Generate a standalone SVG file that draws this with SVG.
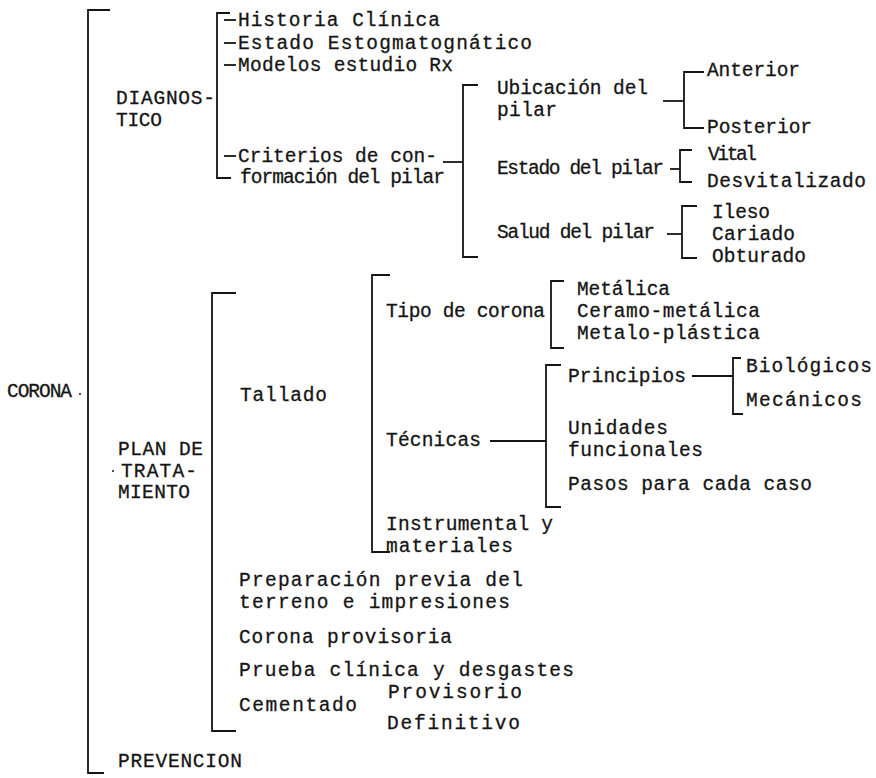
<svg xmlns="http://www.w3.org/2000/svg" width="876" height="778" viewBox="0 0 876 778">
<style>
text{font-family:"Liberation Mono","Courier New",monospace;font-size:19.5px;fill:#151515;stroke:#151515;stroke-width:0.3}
.c path,.c line{fill:none;stroke:#151515;stroke-width:1.8}
</style>
<rect width="876" height="778" fill="#fff"/>
<g class="c" id="connectors">
<path d="M110,10 H88 V773 H104"/>
<path d="M230,13 H217 V178 H231"/>
<line x1="224" y1="20" x2="236" y2="20"/>
<line x1="224" y1="43" x2="236" y2="43"/>
<line x1="224" y1="65" x2="236" y2="65"/>
<line x1="224" y1="156" x2="236" y2="156"/>
<line x1="443" y1="162" x2="463" y2="162"/>
<path d="M478,85 H463 V257 H478"/>
<line x1="663" y1="101" x2="684" y2="101"/>
<path d="M704,72 H684 V128 H704"/>
<line x1="670" y1="169" x2="680" y2="169"/>
<path d="M692,150 H680 V182 H692"/>
<line x1="667" y1="234" x2="682" y2="234"/>
<path d="M697,206 H682 V258 H697"/>
<path d="M236,293 H212 V731 H236"/>
<path d="M390,275 H372 V552 H390"/>
<path d="M564,281 H551 V348 H564"/>
<line x1="490" y1="441" x2="546" y2="441"/>
<path d="M561,365 H546 V507 H561"/>
<line x1="692" y1="376" x2="733" y2="376"/>
<path d="M741,358 H733 V414 H743"/>
<circle cx="80" cy="394" r="1" fill="#151515" stroke="none"/>
<circle cx="113" cy="471" r="1" fill="#151515" stroke="none"/>
</g>
<g id="corona"><text x="7" y="397" textLength="65">CORONA</text></g>
<g id="diagnostico"><text x="116" y="104" textLength="99">DIAGNOS-</text><text x="116" y="126" textLength="46">TICO</text></g>
<g id="historia"><text x="238" y="26" textLength="202">Historia Clínica</text></g>
<g id="estado-estog"><text x="238" y="49" textLength="294">Estado Estogmatognático</text></g>
<g id="modelos"><text x="238" y="71" textLength="215">Modelos estudio Rx</text></g>
<g id="criterios"><text x="238" y="162" textLength="199">Criterios de con-</text><text x="240" y="183" textLength="205">formación del pilar</text></g>
<g id="ubicacion"><text x="497" y="94" textLength="151">Ubicación del</text><text x="497" y="116" textLength="60">pilar</text></g>
<g id="anterior"><text x="707" y="76" textLength="93">Anterior</text></g>
<g id="posterior"><text x="707" y="133" textLength="105">Posterior</text></g>
<g id="estado-pilar"><text x="497" y="174" textLength="167">Estado del pilar</text></g>
<g id="vital"><text x="708" y="160" textLength="49">Vital</text></g>
<g id="desvitalizado"><text x="707" y="187" textLength="159">Desvitalizado</text></g>
<g id="salud"><text x="497" y="238" textLength="158">Salud del pilar</text></g>
<g id="ileso"><text x="712" y="218" textLength="58">Ileso</text></g>
<g id="cariado"><text x="712" y="240" textLength="83">Cariado</text></g>
<g id="obturado"><text x="712" y="262" textLength="94">Obturado</text></g>
<g id="plan"><text x="118" y="455" textLength="85">PLAN DE</text><text x="121" y="477" textLength="76">TRATA-</text><text x="118" y="498" textLength="72">MIENTO</text></g>
<g id="prevencion"><text x="118" y="767" textLength="124">PREVENCION</text></g>
<g id="tallado"><text x="240" y="401" textLength="87">Tallado</text></g>
<g id="tipo"><text x="386" y="317" textLength="159">Tipo de corona</text></g>
<g id="metalica"><text x="577" y="295" textLength="93">Metálica</text></g>
<g id="ceramo"><text x="577" y="317" textLength="183">Ceramo-metálica</text></g>
<g id="metalo"><text x="577" y="339" textLength="183">Metalo-plástica</text></g>
<g id="tecnicas"><text x="386" y="446" textLength="95">Técnicas</text></g>
<g id="principios"><text x="568" y="382" textLength="118">Principios</text></g>
<g id="biologicos"><text x="746" y="372" textLength="126">Biológicos</text></g>
<g id="mecanicos"><text x="746" y="406" textLength="116">Mecánicos</text></g>
<g id="unidades"><text x="568" y="434" textLength="100">Unidades</text><text x="568" y="456" textLength="135">funcionales</text></g>
<g id="pasos"><text x="568" y="490" textLength="244">Pasos para cada caso</text></g>
<g id="instrumental"><text x="386" y="530" textLength="167">Instrumental y</text><text x="386" y="552" textLength="127">materiales</text></g>
<g id="preparacion"><text x="239" y="586" textLength="284">Preparación previa del</text><text x="239" y="608" textLength="271">terreno e impresiones</text></g>
<g id="provisoria"><text x="239" y="643" textLength="213">Corona provisoria</text></g>
<g id="prueba"><text x="239" y="676" textLength="335">Prueba clínica y desgastes</text></g>
<g id="cementado"><text x="239" y="711" textLength="118">Cementado</text></g>
<g id="provisorio"><text x="388" y="698" textLength="134">Provisorio</text></g>
<g id="definitivo"><text x="387" y="729" textLength="133">Definitivo</text></g>
</svg>
